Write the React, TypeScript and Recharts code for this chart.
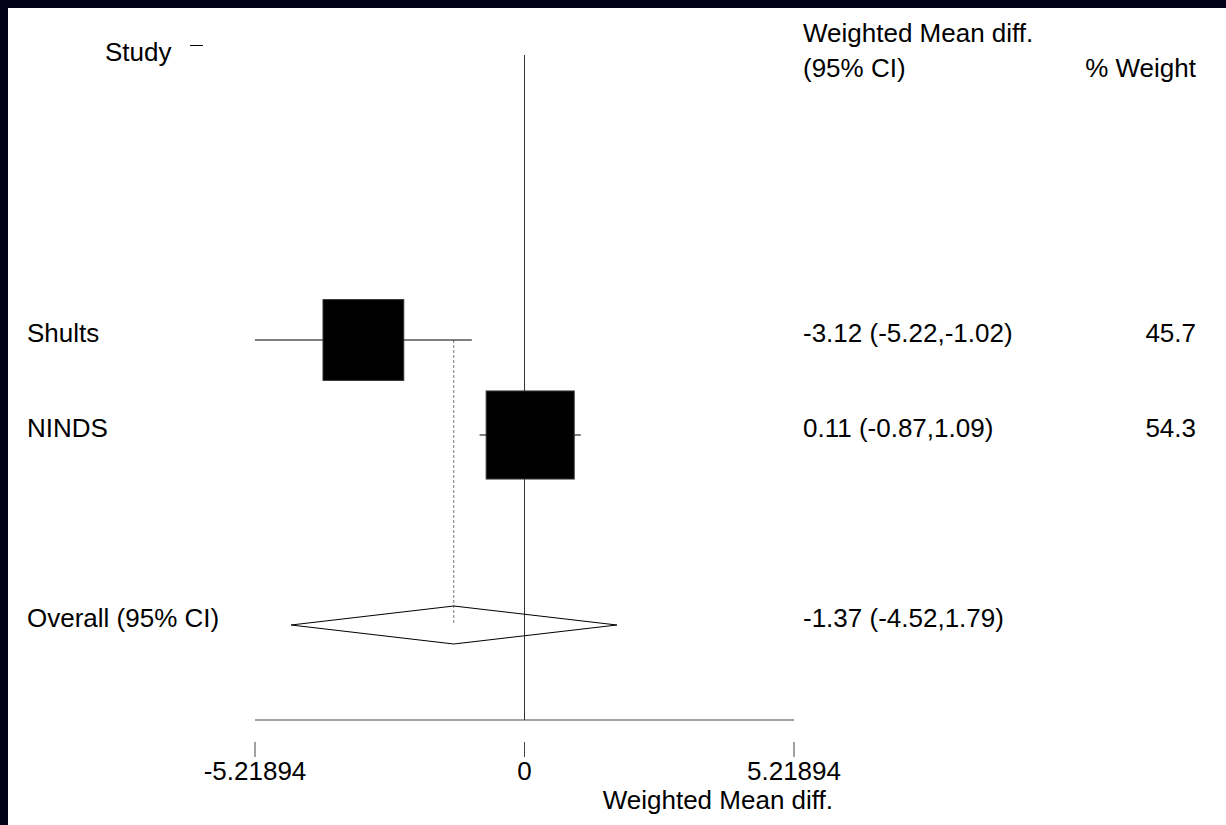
import React from 'react';
import { ComposedChart, XAxis, YAxis, Scatter, Line, ReferenceLine } from 'recharts';

// study level results (weighted mean difference)
const studies = ['Shults', 'NINDS'];
const effects = [-3.12, 0.11];
const ciLow = [-5.22, -0.87];
const ciHigh = [-1.02, 1.09];
const weights = [45.7, 54.3];
const studyRows = [3, 4];

// pooled estimate
const overallLabel = 'Overall (95% CI)';
const overallEst = -1.37;
const overallLow = -4.52;
const overallHigh = 1.79;
const overallRow = 6;

const xTicks = [-5.21894, 0, 5.21894];
const xTickLabels = ['-5.21894', '0', '5.21894'];

const FONT = '"Liberation Sans", Arial, Helvetica, sans-serif';
const FS = 26;
const W = 1218;
const H = 817;
const AXIS_Y = 712;
const SQ_K = 11.95;
const DIAMOND_H = 0.2;

const fmt = (v: number) => v.toFixed(2);

const studyPoints = studies.map((s, i) => ({ x: effects[i], y: studyRows[i], w: weights[i] }));
const diamond = [
  { x: overallLow, y: overallRow },
  { x: overallEst, y: overallRow - DIAMOND_H },
  { x: overallHigh, y: overallRow },
  { x: overallEst, y: overallRow + DIAMOND_H },
  { x: overallLow, y: overallRow },
];

const rowText: Record<string, { label: string; ci: string; w: string }> = {};
studies.forEach((s, i) => {
  rowText[String(studyRows[i])] = {
    label: s,
    ci: `${fmt(effects[i])} (${fmt(ciLow[i])},${fmt(ciHigh[i])})`,
    w: weights[i].toFixed(1),
  };
});
rowText[String(overallRow)] = {
  label: overallLabel,
  ci: `${fmt(overallEst)} (${fmt(overallLow)},${fmt(overallHigh)})`,
  w: '',
};

const RowTick = (props: any) => {
  const { y, payload } = props;
  const r = rowText[String(payload.value)];
  if (!r) return null;
  const ty = y - 7;
  return (
    <g fontFamily={FONT} fontSize={FS} fill="#000">
      <text x={19} y={ty} dominantBaseline="central">{r.label}</text>
      <text x={795} y={ty} dominantBaseline="central">{r.ci}</text>
      {r.w && <text x={1188} y={ty} textAnchor="end" dominantBaseline="central">{r.w}</text>}
    </g>
  );
};

const XTick = (props: any) => {
  const { x, index } = props;
  return (
    <g>
      <line x1={x} x2={x} y1={AXIS_Y + 22} y2={AXIS_Y + 37} stroke="#444" strokeWidth={1} />
      <text x={x} y={AXIS_Y + 51} textAnchor="middle" dominantBaseline="central" fontFamily={FONT} fontSize={FS} fill="#000">
        {xTickLabels[index]}
      </text>
    </g>
  );
};

const Square = (props: any) => {
  const { cx, cy, payload } = props;
  const s = SQ_K * Math.sqrt(payload.w);
  return <rect x={cx - s / 2} y={cy - s / 2} width={s} height={s} fill="#000" stroke="#333" strokeWidth={1} />;
};

const txt = (extra: React.CSSProperties): React.CSSProperties => ({
  position: 'absolute',
  fontFamily: FONT,
  fontSize: FS,
  lineHeight: '1',
  color: '#000',
  whiteSpace: 'nowrap',
  ...extra,
});

export default function App() {
  return (
    <div style={{ position: 'absolute', left: 0, top: 0, width: 1226, height: 825, background: '#02021a' }}>
      <div style={{ position: 'absolute', left: 8, top: 8, width: W, height: H, background: '#fff' }}>
        <ComposedChart width={W} height={H} margin={{ top: 47, right: 432, bottom: 45, left: 246 }}>
          <XAxis
            type="number"
            dataKey="x"
            domain={[xTicks[0], xTicks[2]]}
            ticks={xTicks}
            interval={0}
            height={60}
            axisLine={{ stroke: '#444' }}
            tickLine={false}
            tick={<XTick />}
          />
          <YAxis
            type="number"
            dataKey="y"
            domain={[0, 7]}
            reversed
            width={1}
            ticks={[...studyRows, overallRow]}
            interval={0}
            axisLine={false}
            tickLine={false}
            tick={<RowTick />}
          />
          <ReferenceLine x={0} stroke="#333" strokeWidth={1} />
          <ReferenceLine
            segment={[{ x: overallEst, y: studyRows[0] }, { x: overallEst, y: overallRow }]}
            stroke="#777"
            strokeDasharray="3 2"
            strokeWidth={1}
            ifOverflow="visible"
          />
          {studies.map((s, i) => (
            <ReferenceLine
              key={s}
              segment={[{ x: ciLow[i], y: studyRows[i] }, { x: ciHigh[i], y: studyRows[i] }]}
              stroke="#000"
              strokeWidth={1}
              ifOverflow="visible"
            />
          ))}
          <Line data={diamond} dataKey="y" type="linear" stroke="#000" strokeWidth={1} dot={false} isAnimationActive={false} />
          <Scatter data={studyPoints} dataKey="y" shape={<Square />} isAnimationActive={false} />
        </ComposedChart>
        <div style={txt({ left: 97, top: 52 - 8 - 13 })}>Study</div>
        <div style={{ position: 'absolute', left: 182, top: 37, width: 13, height: 1, background: '#000' }} />
        <div style={txt({ left: 795, top: 33 - 8 - 13 })}>Weighted Mean diff.</div>
        <div style={txt({ left: 795, top: 68 - 8 - 13 })}>(95% CI)</div>
        <div style={txt({ right: W - 1188, top: 68 - 8 - 13 })}>% Weight</div>
        <div style={txt({ right: W - 825, top: 800 - 8 - 13 })}>Weighted Mean diff.</div>
      </div>
    </div>
  );
}
